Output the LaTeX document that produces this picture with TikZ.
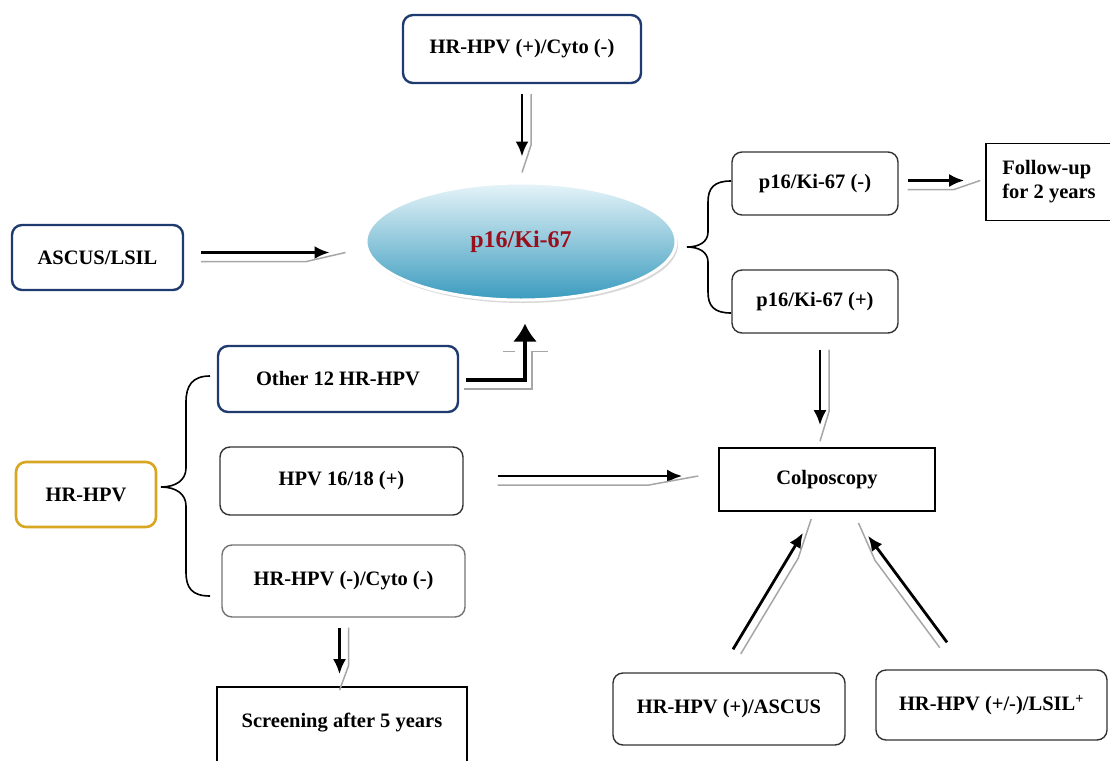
\documentclass[tikz,border=0pt]{standalone}
\usepackage{fontspec}
\setmainfont{Liberation Serif}
\usetikzlibrary{shapes.geometric,arrows.meta,calc,shadows}
\definecolor{boxblue}{HTML}{1F3A6E}
\definecolor{boxyellow}{HTML}{D8A623}
\definecolor{ellTop}{HTML}{E6F4F9}
\definecolor{ellBot}{HTML}{3A9BBE}
\definecolor{ellText}{HTML}{9A0F1C}
\newcommand\dblarr[3]{%
  \draw[blk] (#1) -- (#2);
  \coordinate (sA) at ($(#1)!9pt!#3:(#2)$);
  \coordinate (sM) at ($(#1)!0.82!(#2)$);
  \coordinate (sB) at ($(sM)!9pt!#3:(#2)$);
  \draw[shad] (sA) -- (sB) -- ($(#2)!-16pt!(#1)$);
}
\begin{document}
\begin{tikzpicture}[x=1pt,y=-1pt,
 every node/.style={font=\fontsize{20.5}{24}\selectfont\bfseries, align=center, inner sep=0pt},
 bluebox/.style={draw=boxblue, line width=2.4pt, rounded corners=10pt},
 graybox/.style={draw=black!80, line width=1.4pt, rounded corners=10pt},
 lgraybox/.style={draw=black!55, line width=1.4pt, rounded corners=10pt},
 ybox/.style={draw=boxyellow, line width=2.6pt, rounded corners=10pt},
 sqbox/.style={draw=black, line width=1.6pt},
 blk/.style={line width=2.8pt, -{Latex[length=15pt,width=13pt]}},
 shad/.style={draw=black!35, line width=1.5pt},
 bracestyle/.style={line width=1.6pt},
]
\useasboundingbox (0,0) rectangle (1110,760);
\clip (0,0) rectangle (1110,760);

% nodes
\node[bluebox, minimum width=238, minimum height=68] (top) at (522,49) {HR-HPV (+)/Cyto (-)};
\node[ellipse, minimum width=310, minimum height=117, draw=white, line width=3pt,
      top color=ellTop, bottom color=ellBot,
      drop shadow={shadow xshift=2pt, shadow yshift=-3pt, fill=black!30},
      font=\fontsize{24}{28}\selectfont\bfseries, text=ellText] (ell) at (521,241.5) {p16/Ki-67};
\node[bluebox, minimum width=171, minimum height=65] (asc) at (97.5,257.5) {ASCUS/LSIL};
\node[graybox, minimum width=166, minimum height=63] (pneg) at (815,183.5) {p16/Ki-67 (-)};
\node[graybox, minimum width=166, minimum height=63] (ppos) at (815,301.5) {p16/Ki-67 (+)};
\node[sqbox, minimum width=126, minimum height=77, align=left] (fol) at (1049,182) {Follow-up\\for 2 years};
\node[sqbox, minimum width=216, minimum height=63] (col) at (827,479.5) {Colposcopy};
\node[bluebox, minimum width=240, minimum height=66] (o12) at (338,379) {Other 12 HR-HPV};
\node[ybox, minimum width=140, minimum height=65] (hr) at (86,494.5) {HR-HPV};
\node[graybox, minimum width=243, minimum height=68] (h16) at (341.5,481) {HPV 16/18 (+)};
\node[lgraybox, minimum width=243, minimum height=72] (hneg) at (343.5,581) {HR-HPV (-)/Cyto (-)};
\node[sqbox, minimum width=250, minimum height=86, text height=14pt, text depth=20pt] (scr) at (342,730) {Screening after 5 years};
\node[graybox, minimum width=232, minimum height=72] (asb) at (729,709) {HR-HPV (+)/ASCUS};
\node[graybox, minimum width=231, minimum height=70] (lsil) at (991.5,705) {HR-HPV (+/-)/LSIL\textsuperscript{+}};

% connector end points
\coordinate (a1s) at ($(top.south)+(0,10)$);
\coordinate (a1e) at ($(top.south |- ell.north)+(0,-25)$);
\coordinate (a2s) at ($(asc.east)+(17,-5)$);
\coordinate (a2e) at ($(a2s -| ell.west)+(-35,0)$);
\coordinate (a3s) at ($(pneg.east)+(9,-3)$);
\coordinate (a3e) at ($(a3s -| fol.west)+(-21,0)$);
\coordinate (a4s) at ($(ppos.south)+(5,16)$);
\coordinate (a4e) at ($(a4s |- col.north)+(0,-22)$);
\coordinate (a5s) at ($(h16.east)+(34,-5)$);
\coordinate (a5e) at ($(a5s -| col.west)+(-36,0)$);
\coordinate (a6s) at ($(hneg.south)+(-4,10)$);
\coordinate (a6e) at ($(a6s |- scr.north)+(0,-12)$);
\coordinate (a7s) at ($(asb.north)+(4,-23)$);
\coordinate (a7e) at ($(col.south)+(-24,21)$);
\coordinate (a8s) at ($(lsil.north)+(-44.5,-27)$);
\coordinate (a8e) at ($(col.south)+(41,24)$);

\dblarr{a1s}{a1e}{90}
\dblarr{a2s}{a2e}{-90}
\dblarr{a3s}{a3e}{-90}
\dblarr{a4s}{a4e}{90}
\dblarr{a5s}{a5e}{-90}
\dblarr{a6s}{a6e}{90}
\dblarr{a7s}{a7e}{-90}
\dblarr{a8s}{a8e}{90}

% elbow arrow from Other 12 HR-HPV to p16/Ki-67
\draw[shad] ($(o12.east)+(5,10)$) -| ($(ell.south)+(11,50)$) -- ++(16,0);
\draw[shad] ($(ell.south)+(-18,50)$) -- ++(12,0);
\draw[line width=3.2pt, -{Latex[length=18pt,width=24pt]}] ($(o12.east)+(7,1)$) -| ($(ell.south)+(4,22)$);

% braces
\draw[bracestyle] (210,376) .. controls (192,376) and (186,386) .. (186,402) -- (186,468)
  .. controls (186,480) and (176,487) .. (161,487)
  .. controls (176,487) and (186,494) .. (186,506) -- (186,572)
  .. controls (186,588) and (192,596) .. (210,596);
\draw[bracestyle] (731,181) .. controls (714,181) and (708,188) .. (708,202) -- (708,232)
  .. controls (708,242) and (699,247) .. (687,247)
  .. controls (699,247) and (708,252) .. (708,262) -- (708,292)
  .. controls (708,306) and (714,313) .. (731,313);
\end{tikzpicture}
\end{document}
